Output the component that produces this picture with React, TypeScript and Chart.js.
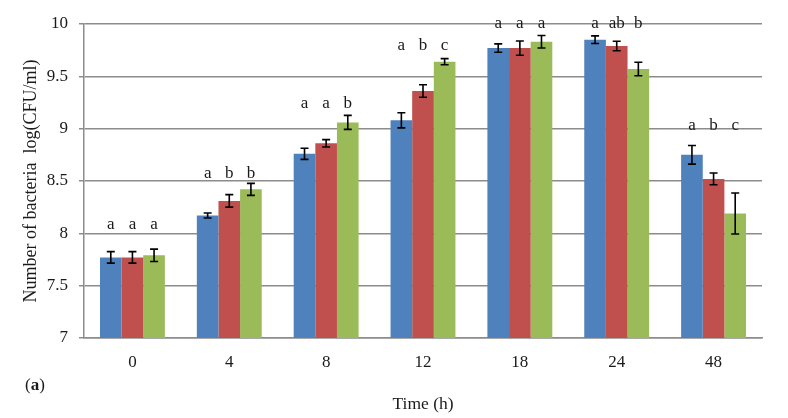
import React, { useEffect, useRef } from "react";
import { Chart, registerables } from "chart.js";

Chart.register(...registerables);

const categories = ["0", "4", "8", "12", "18", "24", "48"];
const seriesA = [7.77, 8.17, 8.76, 9.08, 9.77, 9.85, 8.75];
const seriesB = [7.77, 8.31, 8.86, 9.36, 9.77, 9.79, 8.52];
const seriesC = [7.79, 8.42, 9.06, 9.64, 9.83, 9.57, 8.19];
const errA = [0.055, 0.024, 0.053, 0.072, 0.04, 0.037, 0.089];
const errB = [0.055, 0.06, 0.035, 0.06, 0.068, 0.045, 0.056];
const errC = [0.059, 0.057, 0.067, 0.029, 0.06, 0.064, 0.196];
const lettersA = ["a", "a", "a", "a", "a", "a", "a"];
const lettersB = ["a", "b", "a", "b", "a", "ab", "b"];
const lettersC = ["a", "b", "b", "c", "a", "b", "c"];
const letterLevel = [8.04, 8.53, 9.2, 9.75, 9.96, 9.96, 8.99];
const yMin = 7;
const yMax = 10;
const yStep = 0.5;

const FONT = "'Liberation Serif', 'Times New Roman', serif";
const TEXT = "#1a1a1a";
const GRID = "#8c8c8c";

const errorPlugin = {
  id: "errorsAndLetters",
  afterDatasetsDraw(chart: any) {
    const ctx = chart.ctx;
    const yScale = chart.scales.y;
    const errs = [errA, errB, errC];
    const letters = [lettersA, lettersB, lettersC];
    ctx.save();
    chart.data.datasets.forEach((ds: any, di: number) => {
      const meta = chart.getDatasetMeta(di);
      meta.data.forEach((bar: any, i: number) => {
        const v = ds.data[i];
        const e = errs[di][i];
        const x = bar.x;
        const yTop = yScale.getPixelForValue(v + e);
        const yBot = yScale.getPixelForValue(v - e);
        ctx.strokeStyle = "#000";
        ctx.lineWidth = 1.6;
        ctx.beginPath();
        ctx.moveTo(x, yTop);
        ctx.lineTo(x, yBot);
        ctx.moveTo(x - 4, yTop);
        ctx.lineTo(x + 4, yTop);
        ctx.moveTo(x - 4, yBot);
        ctx.lineTo(x + 4, yBot);
        ctx.stroke();
        ctx.fillStyle = TEXT;
        ctx.font = `17px ${FONT}`;
        ctx.textAlign = "center";
        ctx.textBaseline = "alphabetic";
        ctx.fillText(letters[di][i], x, yScale.getPixelForValue(letterLevel[i]));
      });
    });
    // panel label "(a)"
    ctx.textAlign = "left";
    ctx.textBaseline = "alphabetic";
    let px = 25;
    const py = 390;
    ctx.font = `17px ${FONT}`;
    ctx.fillText("(", px, py);
    px += ctx.measureText("(").width;
    ctx.font = `bold 17px ${FONT}`;
    ctx.fillText("a", px, py);
    px += ctx.measureText("a").width;
    ctx.font = `17px ${FONT}`;
    ctx.fillText(")", px, py);
    ctx.restore();
  },
};

export default function App() {
  const ref = useRef<HTMLCanvasElement | null>(null);
  useEffect(() => {
    if (!ref.current) return;
    const chart = new Chart(ref.current, {
      type: "bar",
      data: {
        labels: categories,
        datasets: [
          { label: "Series 1", data: seriesA, backgroundColor: "#4F81BD" },
          { label: "Series 2", data: seriesB, backgroundColor: "#C0504D" },
          { label: "Series 3", data: seriesC, backgroundColor: "#9BBB59" },
        ],
      },
      options: {
        responsive: false,
        animation: false,
        devicePixelRatio: 1,
        layout: { padding: { top: 24, right: 26, left: 0, bottom: 0 } },
        plugins: { legend: { display: false }, tooltip: { enabled: false } },
        datasets: { bar: { categoryPercentage: 0.67, barPercentage: 1 } },
        scales: {
          x: {
            grid: { display: false, drawTicks: false },
            border: { display: true, color: GRID, width: 1.5 },
            ticks: { color: TEXT, font: { family: FONT, size: 17 }, padding: 14 },
            title: {
              display: true,
              text: "Time (h)",
              color: TEXT,
              font: { family: FONT, size: 17.5 },
              padding: { top: 0, bottom: 3 },
            },
            afterFit: (s: any) => {
              s.height = 80;
            },
          },
          y: {
            min: yMin,
            max: yMax,
            ticks: {
              stepSize: yStep,
              color: TEXT,
              font: { family: FONT, size: 17 },
              padding: 11,
              callback: (v: any) => String(Number(v)),
            },
            grid: { color: GRID, lineWidth: 1.5, tickLength: 5 },
            border: { display: true, color: GRID, width: 1.5 },
            title: {
              display: true,
              text: "Number of bacteria  log(CFU/ml)",
              color: TEXT,
              font: { family: FONT, size: 18 },
              padding: { top: 20, bottom: 0 },
            },
            afterFit: (s: any) => {
              s.width = 84;
            },
          },
        },
      },
      plugins: [errorPlugin],
    });
    return () => chart.destroy();
  }, []);
  return (
    <div style={{ position: "fixed", left: 0, top: 0, width: 788, height: 418, background: "#fff" }}>
      <canvas ref={ref} width={788} height={418} />
    </div>
  );
}
